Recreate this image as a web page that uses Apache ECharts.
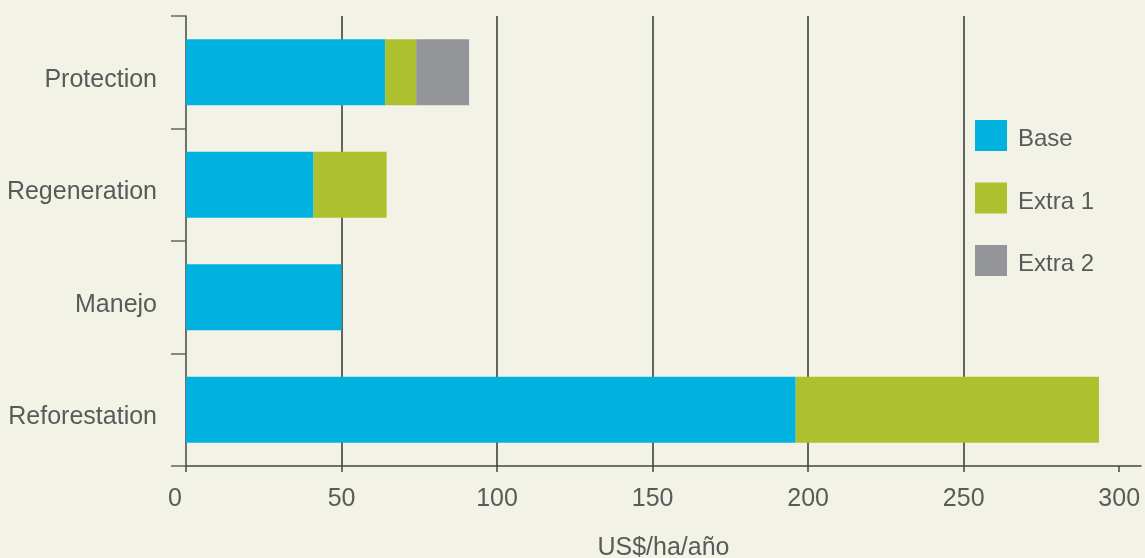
<!DOCTYPE html>
<html>
<head>
<meta charset="utf-8">
<style>
  html, body { margin: 0; padding: 0; background: #F2F3E6; }
  #chart { width: 1145px; height: 558px; }
</style>
<script src="https://cdn.jsdelivr.net/npm/echarts@6/dist/echarts.min.js"></script>
</head>
<body>
<div id="chart"></div>
<script>
// Cost categories, top to bottom
const categories = ['Protection', 'Regeneration', 'Manejo', 'Reforestation'];

// Stacked cost components (US$/ha/año)
const baseValues = [64, 41, 50, 196];
const extra1Values = [10, 23.5, 0, 97.5];
const extra2Values = [17, 0, 0, 0];

const seriesNames = ['Base', 'Extra 1', 'Extra 2'];
const xTicks = [0, 50, 100, 150, 200, 250, 300];

const FONT = 'Liberation Sans, Arial, sans-serif';
const TEXT = '#5a5a5a';
const COLORS = ['#00B2DD', '#ADC12E', '#939598'];

const chart = echarts.init(document.getElementById('chart'), null, { renderer: 'canvas' });

function barSeries(name, data, color) {
  return {
    name: name,
    type: 'bar',
    stack: 'total',
    barWidth: 66,
    itemStyle: { color: color },
    data: data.map(v => (v === 0 ? null : v))
  };
}

chart.setOption({
  backgroundColor: '#F2F3E6',
  animation: false,
  textStyle: { fontFamily: FONT },
  grid: { left: 186, right: 4, top: 16, bottom: 92, containLabel: false, outerBoundsMode: 'none' },
  legend: {
    orient: 'vertical',
    left: 975,
    top: 120,
    padding: 0,
    itemWidth: 32,
    itemHeight: 31,
    itemGap: 31,
    icon: 'rect',
    formatter: name => '{t|' + name + '}',
    textStyle: {
      color: TEXT, fontSize: 24, fontFamily: FONT,
      rich: { t: { color: TEXT, fontSize: 24, fontFamily: FONT, padding: [8, 0, 0, 6] } }
    },
    data: seriesNames
  },
  xAxis: {
    type: 'value',
    min: 0,
    max: 307,
    interval: 50,
    name: 'US$/ha/año',
    nameLocation: 'middle',
    nameGap: 70,
    nameTextStyle: { color: TEXT, fontSize: 25, fontFamily: FONT },
    axisLine: { show: true, lineStyle: { color: '#444', width: 1.5 } },
    axisTick: {
      show: true, length: 6, inside: false,
      customValues: xTicks,
      lineStyle: { color: '#444', width: 1.5 }
    },
    axisLabel: {
      color: TEXT, fontSize: 25, fontFamily: FONT, margin: 21,
      customValues: xTicks,
      // the zero label sits a little left of its tick
      formatter: v => (v === 0 ? '{z|0}' : String(v)),
      rich: { z: { color: TEXT, fontSize: 25, fontFamily: FONT, padding: [0, 22, 0, 0] } }
    },
    splitLine: {
      show: true, showMinLine: false, showMaxLine: false,
      lineStyle: { color: '#333', width: 1.5 }
    }
  },
  yAxis: {
    type: 'category',
    inverse: true,
    data: categories,
    boundaryGap: true,
    axisLine: { show: true, lineStyle: { color: '#444', width: 1.5 } },
    axisTick: { show: true, length: 15, inside: false, lineStyle: { color: '#666', width: 1.5 } },
    axisLabel: {
      color: TEXT, fontSize: 25, fontFamily: FONT, margin: 29,
      formatter: v => '{c|' + v + '}',
      rich: { c: { color: TEXT, fontSize: 25, fontFamily: FONT, padding: [15, 0, 0, 0] } }
    },
    splitLine: { show: false }
  },
  series: [
    barSeries(seriesNames[0], baseValues, COLORS[0]),
    barSeries(seriesNames[1], extra1Values, COLORS[1]),
    barSeries(seriesNames[2], extra2Values, COLORS[2])
  ]
});
</script>
</body>
</html>
